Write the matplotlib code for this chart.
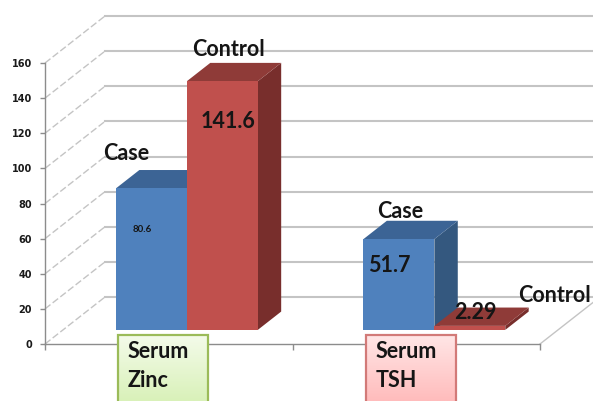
import numpy as np
import matplotlib
matplotlib.use("Agg")
import matplotlib.pyplot as plt
from matplotlib.patches import Polygon, Rectangle

# ---- data -------------------------------------------------------------
categories = ["Serum\nZinc", "Serum\nTSH"]
series_names = ["Case", "Control"]
case_values = [80.6, 51.7]
control_values = [141.6, 2.29]
y_ticks = [0, 20, 40, 60, 80, 100, 120, 140, 160]

# ---- styling ----------------------------------------------------------
LABEL_FONT = ["Lato", "DejaVu Sans"]
face_colors = {
    "Case": ("#4f81bd", "#3c6495", "#34587f"),      # front, top, side
    "Control": ("#c0504d", "#8f3b38", "#782e2c"),
}
box_styles = [
    ("#f4fbea", "#d9f1b9", "#9bbb59"),   # gradient top, gradient bottom, edge
    ("#ffe6e6", "#ffbcbc", "#d27a78"),
]
WALL = "#c4c4c4"

# ---- figure / axes ----------------------------------------------------
W, H = 593, 401
fig = plt.figure(figsize=(W / 100, H / 100), dpi=100)
x0_px, y0_px, ytop_px = 45, 344, 63
ax = fig.add_axes([x0_px / W, 0, (W - x0_px) / W, (H - ytop_px) / H])
px_per_x = 247.5
px_per_y = (y0_px - ytop_px) / 160.0
ax.set_xlim(0, (W - x0_px) / px_per_x)
ax.set_ylim(-(H - y0_px) / px_per_y, 160)

# oblique depth: full depth shifts 60 px right and 47 px up
KX = 60 / px_per_x
KY = 47 / px_per_y


def P(x, y, d):
    return (x + d * KX, y + d * KY)


# ---- walls ------------------------------------------------------------
n_cat = len(categories)
for v in y_ticks:
    a, b = P(0, v, 0), P(0, v, 1)
    ax.plot([a[0], b[0]], [a[1], b[1]], color=WALL, lw=1.0, ls=(0, (5, 2)),
            clip_on=False, zorder=1)
    c = P(n_cat, v, 1)
    ax.plot([b[0], c[0]], [b[1], c[1]], color=WALL, lw=1.5,
            clip_on=False, zorder=1)
a, b = P(n_cat, 0, 0), P(n_cat, 0, 1)
ax.plot([a[0], b[0]], [a[1], b[1]], color=WALL, lw=1.0, clip_on=False, zorder=1)

# ---- bars -------------------------------------------------------------
GAP, BW = 0.214, 0.2865
D0, D1 = 0.3, 0.69
label_offsets = {  # (name label offset, value label offset) in pixels
    (0, "Case"): ((-25, 35), (-9, -41)),
    (0, "Control"): ((6, 32), (6, -40)),
    (1, "Case"): ((1, 28), (-10, -26)),
    (1, "Control"): ((85, 30), (6, 13)),
}
value_sizes = {(0, "Case"): 7, (0, "Control"): 15.5,
               (1, "Case"): 15.5, (1, "Control"): 15.5}

z = 3
for i in range(n_cat):
    for j, (name, vals) in enumerate(zip(series_names,
                                         [case_values, control_values])):
        v = vals[i]
        xa = i + GAP + j * BW
        xb = xa + BW
        front, top, side = face_colors[name]
        side_poly = [P(xb, 0, D0), P(xb, 0, D1), P(xb, v, D1), P(xb, v, D0)]
        top_poly = [P(xa, v, D0), P(xb, v, D0), P(xb, v, D1), P(xa, v, D1)]
        front_poly = [P(xa, 0, D0), P(xb, 0, D0), P(xb, v, D0), P(xa, v, D0)]
        for poly, col in ((side_poly, side), (top_poly, top), (front_poly, front)):
            ax.add_patch(Polygon(poly, closed=True, facecolor=col,
                                 edgecolor="none", clip_on=False, zorder=z))
            z += 0.01
        anchor = P((xa + xb) / 2, v, D0)
        name_off, val_off = label_offsets[(i, name)]
        ax.annotate(name, xy=anchor, xytext=name_off, textcoords="offset pixels",
                    ha="center", va="center", fontsize=15.5, fontweight="bold",
                    family=LABEL_FONT, color="#151515", zorder=8,
                    annotation_clip=False)
        ax.annotate(f"{v:g}", xy=anchor, xytext=val_off,
                    textcoords="offset pixels", ha="center", va="center",
                    fontsize=value_sizes[(i, name)], fontweight="bold",
                    family=LABEL_FONT, color="#151515", zorder=8,
                    annotation_clip=False)

# ---- category boxes ---------------------------------------------------
BOX_L, BOX_W, BOX_TOP = 0.295, 0.364, 5.1
ybot = ax.get_ylim()[0]
for i, (cat, (gtop, gbot, edge)) in enumerate(zip(categories, box_styles)):
    bx = i + BOX_L
    c1 = np.array(matplotlib.colors.to_rgb(gtop))
    c2 = np.array(matplotlib.colors.to_rgb(gbot))
    t = np.linspace(0, 1, 64)[:, None]
    grad = (c1 * (1 - t) + c2 * t)[:, None, :]
    ax.imshow(grad, extent=(bx, bx + BOX_W, ybot, BOX_TOP), aspect="auto",
              origin="upper", zorder=6, interpolation="bilinear")
    ax.add_patch(Rectangle((bx, ybot - 5), BOX_W, BOX_TOP - ybot + 5,
                           facecolor="none", edgecolor=edge, lw=1.6,
                           clip_on=False, zorder=6.5))
    ax.annotate(cat, xy=(bx, BOX_TOP), xytext=(10, -6),
                textcoords="offset pixels", ha="left", va="top",
                fontsize=15.5, fontweight="bold", family=LABEL_FONT,
                color="#151515", linespacing=1.45, zorder=7)

ax.set_xlim(0, (W - x0_px) / px_per_x)
ax.set_ylim(-(H - y0_px) / px_per_y, 160)

# ---- axis lines and ticks ---------------------------------------------
for s in ("top", "right"):
    ax.spines[s].set_visible(False)
ax.spines["left"].set_bounds(0, 160)
ax.spines["bottom"].set_position(("data", 0))
ax.spines["bottom"].set_bounds(0, n_cat)
for s in ("left", "bottom"):
    ax.spines[s].set_color("#8c8c8c")
    ax.spines[s].set_linewidth(1.0)
    ax.spines[s].set_zorder(2)
ax.set_yticks(y_ticks)
ax.set_yticklabels([str(t) for t in y_ticks])
ax.set_xticks(range(n_cat + 1))
ax.set_xticklabels([])
ax.tick_params(axis="y", direction="out", length=3.5, width=1, color="#8c8c8c",
               pad=6, labelsize=7, labelcolor="#1a1a1a")
ax.tick_params(axis="x", direction="out", length=4, width=1, color="#8c8c8c")
for lab in ax.get_yticklabels():
    lab.set_fontweight("bold")
ax.patch.set_visible(False)

fig.savefig("out.png", dpi=100)
